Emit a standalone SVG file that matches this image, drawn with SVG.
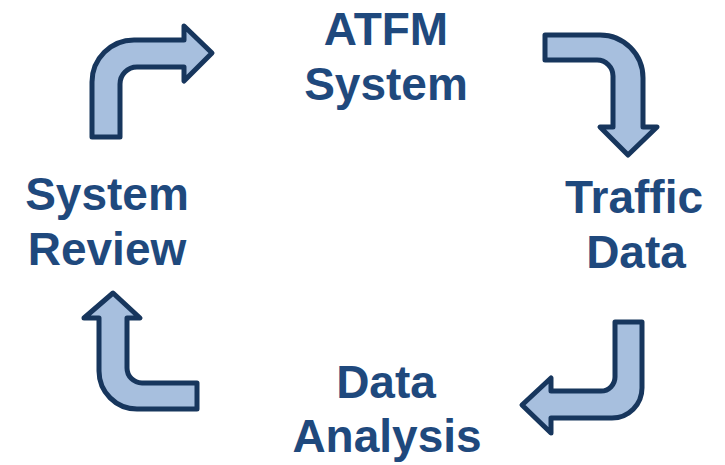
<svg xmlns="http://www.w3.org/2000/svg" width="725" height="465" viewBox="0 0 725 465">
<style>
.lbl{font-family:"Liberation Sans",Arial,sans-serif;font-weight:bold;font-size:46px;fill:#1F497D;text-anchor:middle}
.arr{fill:#A7BFDE;stroke:#17365D;stroke-width:5;stroke-linejoin:round}
</style>
<rect width="725" height="465" fill="#FFFFFF"/>
<g id="atfm-system"><text class="lbl" x="386" y="45">ATFM</text><text class="lbl" x="386" y="100">System</text></g>
<g id="traffic-data"><text class="lbl" x="634" y="213">Traffic</text><text class="lbl" x="636" y="268">Data</text></g>
<g id="data-analysis"><text class="lbl" x="386" y="398">Data</text><text class="lbl" x="387" y="452">Analysis</text></g>
<g id="system-review"><text class="lbl" x="107" y="210">System</text><text class="lbl" x="107" y="265">Review</text></g>
<g id="connectors">
<path class="arr" d="M92 137 L92 82 A42 42 0 0 1 134 40 L184 40 L184 26 L212 53 L184 81 L184 67 L137 67 A17 17 0 0 0 120 84 L120 137 Z"/>
<path class="arr" d="M545 35 L600 35 A43 43 0 0 1 643 78 L643 127 L657 127 L628 155 L600 127 L613 127 L613 76 A16 16 0 0 0 597 60 L545 60 Z"/>
<path class="arr" d="M615 322 L642 322 L642 388 A30 30 0 0 1 612 418 L551 418 L551 433 L522 405 L551 378 L551 391 L601 391 A14 14 0 0 0 615 377 Z"/>
<path class="arr" d="M113 293 L140 318 L127 318 L127 368 A15 15 0 0 0 142 383 L197 383 L197 409 L137 409 A38 38 0 0 1 99 371 L99 318 L84 318 Z"/>
</g>
</svg>
